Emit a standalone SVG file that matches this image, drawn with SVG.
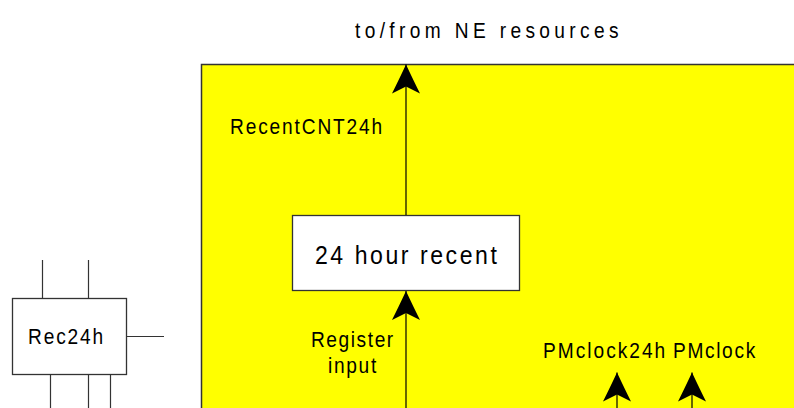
<svg xmlns="http://www.w3.org/2000/svg" width="794" height="408" viewBox="0 0 794 408">
  <style>
    .t { font-family: "Liberation Sans", Arial, sans-serif; font-size: 22px; fill: #000; }
    .box { fill: #fff; stroke: #333; stroke-width: 1.3; }
    .wire { stroke: #000; stroke-width: 1.2; fill: none; }
    .stub { stroke: #333; stroke-width: 1.2; fill: none; }
  </style>
  <defs>
    <marker id="ah" markerUnits="userSpaceOnUse" viewBox="0 0 30 30" markerWidth="30" markerHeight="30" refX="29" refY="15" orient="auto">
      <path d="M29,15 Q12,7 0,1 L7,15 L0,29 Q12,23 29,15 Z" fill="#000"/>
    </marker>
  </defs>
  <rect width="794" height="408" fill="#fff"/>
  <g id="ne-area">
    <rect x="201.5" y="64.5" width="620" height="360" fill="#ffff00" stroke="#333" stroke-width="1.5"/>
  </g>
  <text class="t" transform="translate(355 37.5) scale(0.87 1)" textLength="303" lengthAdjust="spacing">to/from NE resources</text>
  <g id="recent24">
    <rect class="box" x="292.5" y="215.5" width="227" height="75"/>
    <text class="t" transform="translate(315 264) scale(0.87 1)" style="font-size:26.5px" textLength="209" lengthAdjust="spacing">24 hour recent</text>
  </g>
  <g id="rec24h">
    <rect class="box" x="12.5" y="298.5" width="114" height="76"/>
    <text class="t" transform="translate(28 344) scale(0.87 1)" textLength="86.5" lengthAdjust="spacing">Rec24h</text>
    <path class="stub" d="M42.5,260 V298.5 M88.5,260 V298.5 M126.5,336.5 H164 M50.5,374.5 V408 M88.5,374.5 V408 M110.5,374.5 V408"/>
  </g>
  <g id="connectors">
    <line class="wire" x1="406" y1="408" x2="406" y2="291" marker-end="url(#ah)"/>
    <line class="wire" x1="406" y1="215" x2="406" y2="64.5" marker-end="url(#ah)"/>
    <line class="wire" x1="617" y1="408" x2="617" y2="372.5" marker-end="url(#ah)"/>
    <line class="wire" x1="692" y1="408" x2="692" y2="372.5" marker-end="url(#ah)"/>
  </g>
  <g id="labels">
    <text class="t" transform="translate(230 133.5) scale(0.87 1)" textLength="175" lengthAdjust="spacing">RecentCNT24h</text>
    <text class="t" transform="translate(311 347) scale(0.87 1)" textLength="94.5" lengthAdjust="spacing">Register</text>
    <text class="t" transform="translate(328 372.5) scale(0.87 1)" textLength="55.5" lengthAdjust="spacing">input</text>
    <text class="t" transform="translate(543 357.5) scale(0.87 1)" textLength="140.5" lengthAdjust="spacing">PMclock24h</text>
    <text class="t" transform="translate(673 357.5) scale(0.87 1)" textLength="94.5" lengthAdjust="spacing">PMclock</text>
  </g>
</svg>
